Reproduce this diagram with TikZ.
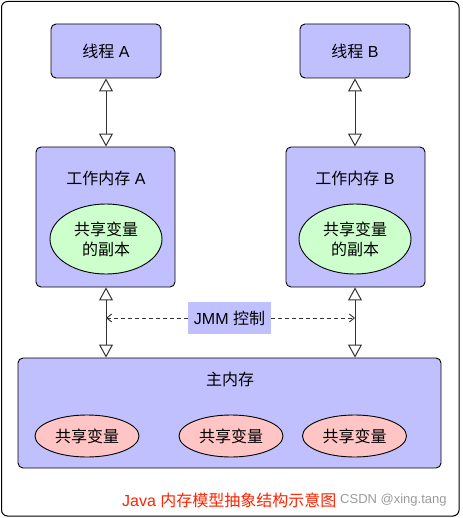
\documentclass[tikz,border=0pt]{standalone}
\usepackage{fontspec}
\setmainfont{Liberation Sans}
\newfontfamily\cjk{Noto Sans CJK SC}
\usetikzlibrary{arrows.meta,shapes.geometric}
\definecolor{boxblue}{HTML}{C0C0FF}
\definecolor{copygreen}{HTML}{CCFFCC}
\definecolor{varpink}{HTML}{FFC4C4}
\definecolor{capred}{HTML}{FF2200}
\definecolor{wmgray}{HTML}{9A9A9A}
\definecolor{linegray}{HTML}{333333}
\tikzset{
  bluebox/.style={draw=black, line width=0.9pt, fill=boxblue, rounded corners=5pt, inner sep=0pt},
  copyell/.style={ellipse, draw=black, line width=0.9pt, fill=copygreen, inner sep=0pt, minimum width=112pt, minimum height=70pt, align=center, font=\cjk\fontsize{16}{20}\selectfont},
  varell/.style={ellipse, draw=black, line width=0.9pt, fill=varpink, inner sep=0pt, minimum width=104pt, minimum height=42pt, font=\cjk\fontsize{16}{18}\selectfont},
  txt/.style={font=\fontsize{16}{18}\selectfont, inner sep=0pt},
  biarrow/.style={draw=linegray, line width=1pt, {Triangle[open,length=13pt,width=14pt]}-{Triangle[open,length=13pt,width=14pt]}},
  ctrlarrow/.style={draw=linegray, line width=0.9pt, dash pattern=on 4pt off 3pt, -{Straight Barb[length=5pt,width=8pt]}},
}
\begin{document}
\begin{tikzpicture}[x=1pt,y=-1pt]
\useasboundingbox (0,0) rectangle (462,518);
\draw[line width=1pt, rounded corners=6pt] (1.5,1.5) rectangle (459,516);
% threads
\node[bluebox, minimum width=110pt, minimum height=54pt] (thA) at (106,51) {};
\node[txt] (thAt) at (106,51) {{\cjk 线程} A};
\node[bluebox, minimum width=110pt, minimum height=54pt] (thB) at (355,51) {};
\node[txt] (thBt) at (355,51) {{\cjk 线程} B};
% working memories
\node[bluebox, minimum width=139pt, minimum height=140pt] (wmA) at (105.5,217) {};
\node[txt] (wmAt) at (106,178) {{\cjk 工作内存} A};
\node[copyell] (ellA) at (106,239) {共享变量\\的副本};
\node[bluebox, minimum width=139pt, minimum height=140pt] (wmB) at (355.5,217) {};
\node[txt] (wmBt) at (355,178) {{\cjk 工作内存} B};
\node[copyell] (ellB) at (355,239) {共享变量\\的副本};
% main memory
\node[bluebox, minimum width=423pt, minimum height=110pt] (main) at (229.5,413) {};
\node[txt] (mainT) at (230,379) {\cjk 主内存};
\node[varell] (v1) at (87,436) {共享变量};
\node[varell] (v2) at (231,436) {共享变量};
\node[varell] (v3) at (354.5,436) {共享变量};
% JMM control
\node[fill=boxblue, minimum width=83pt, minimum height=32pt, inner sep=0pt, font=\fontsize{16}{18}\selectfont] (jmm) at (229.5,318) {JMM {\cjk 控制}};
% connectors
\draw[biarrow] (thA.south) -- (thA.south |- wmA.north);
\draw[biarrow] (thB.south) -- (thB.south |- wmB.north);
\draw[biarrow] (thA.south |- wmA.south) -- (thA.south |- main.north);
\draw[biarrow] (thB.south |- wmB.south) -- (thB.south |- main.north);
\draw[ctrlarrow] (jmm.west) -- (jmm.west -| thA.south);
\draw[ctrlarrow] (jmm.east) -- (jmm.east -| thB.south);
% caption
\node[anchor=west, inner sep=0pt, text=capred, font=\fontsize{16}{18}\selectfont] (cap) at (122,500) {Java {\cjk 内存模型抽象结构示意图}};
\node[anchor=west, inner sep=0pt, text=wmgray, font=\fontsize{13}{16}\selectfont] (wm) at (340,500) {CSDN @xing.tang};
\end{tikzpicture}
\end{document}
